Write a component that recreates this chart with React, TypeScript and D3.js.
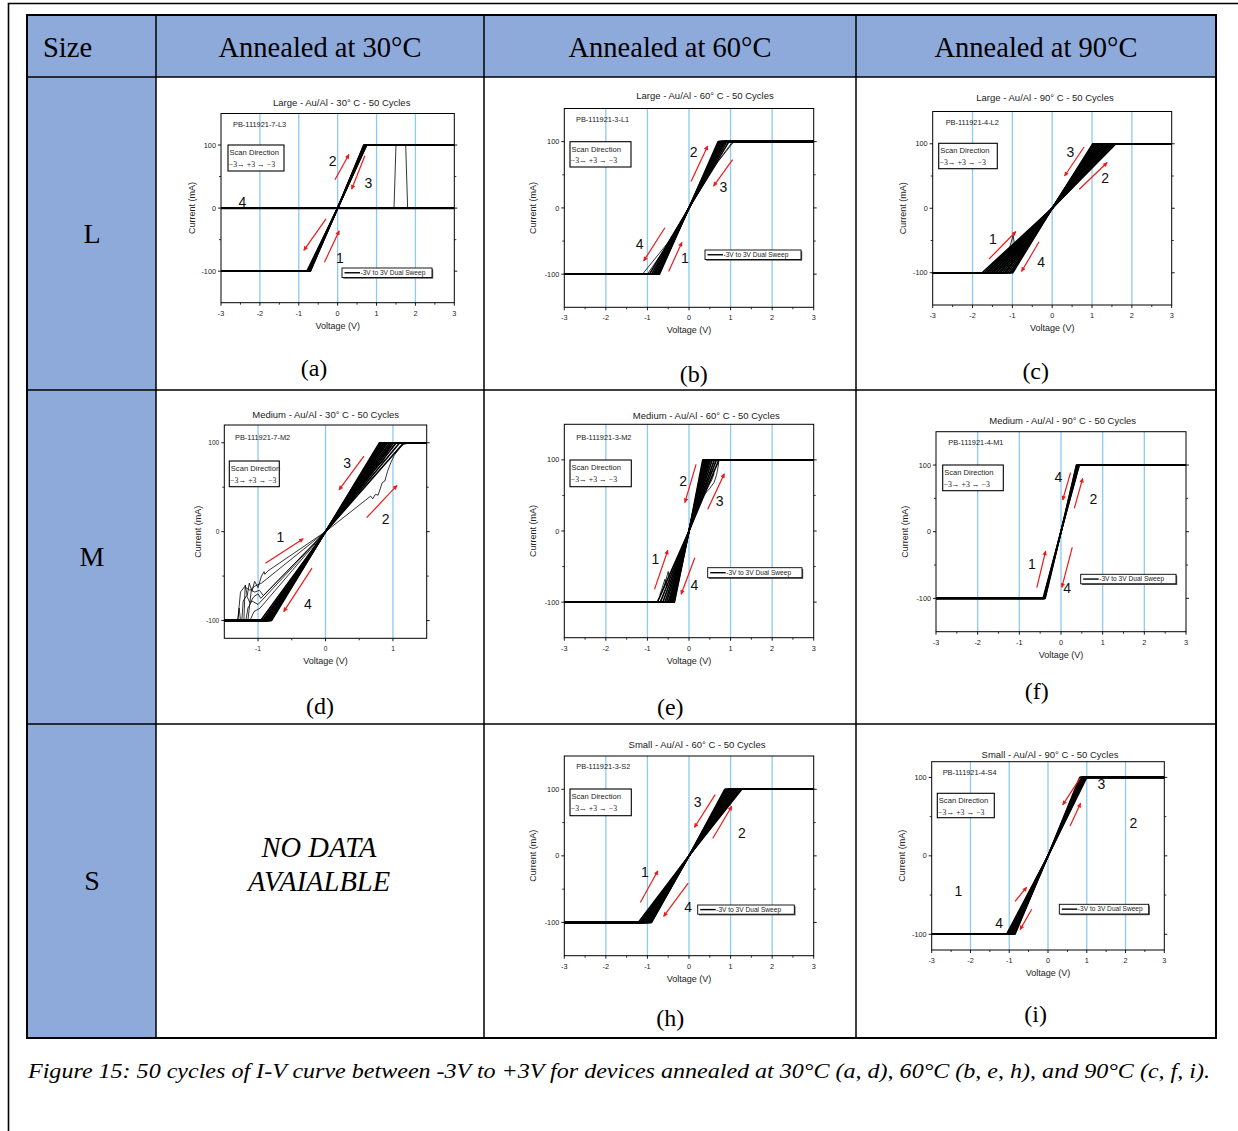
import React from "react";
import * as d3 from "d3";

type Pt = [number, number];
type Arrow = [number, number, number, number];
type Note = [number, number, string];

// ---------- text ----------
const sizeHead = "Size";
const columnHeads = ["Annealed at 30°C", "Annealed at 60°C", "Annealed at 90°C"];
const rowSizes = ["L", "M", "S"];
const noData = ["NO DATA", "AVAIALBLE"];
const caption =
  "Figure 15: 50 cycles of I-V curve between -3V to +3V for devices annealed at 30°C (a, d), 60°C (b, e, h), and 90°C (c, f, i).";
const legendText = "-3V to 3V Dual Sweep";

// ---------- axes ----------
const voltTicks = [-3, -2, -1, 0, 1, 2, 3];
const voltMinor = [-2.5, -1.5, -0.5, 0.5, 1.5, 2.5];
const voltTicksNarrow = [-1, 0, 1];
const voltMinorNarrow = [-0.5, 0.5];
const currentTicks = [-100, 0, 100];
const currentMinor = [-50, 50];
const gridWide = [-2, -1, 0, 1, 2];
const gridNarrow = [-1, 0, 1];
const compliance = 100; // mA, clamp level

// ---------- knee voltages per cycle (at -100 mA / +100 mA) ----------
const aLow = [-0.79, -0.77, -0.76, -0.75, -0.74, -0.73, -0.72, -0.71, -0.7];
const aHigh = [0.75, 0.74, 0.73, 0.72, 0.71, 0.7, 0.69, 0.68, 0.67];
const bLow = [-0.95, -0.9, -0.86, -0.83, -0.81, -0.79, -0.77, -0.76, -0.75, -0.73, -0.71];
const bHigh = [0.96, 0.91, 0.87, 0.84, 0.81, 0.79, 0.77, 0.76, 0.74, 0.72, 0.7];
const cLow = [-1.76, -1.71, -1.66, -1.62, -1.57, -1.52, -1.48, -1.43, -1.39, -1.34, -1.3, -1.25, -1.2, -1.16, -1.11, -1.06, -1.02, -0.99];
const cHigh = [1.6, 1.57, 1.53, 1.5, 1.46, 1.43, 1.39, 1.35, 1.31, 1.28, 1.24, 1.2, 1.17, 1.13, 1.1, 1.07, 1.04, 1.02];
const dLow = [-0.96, -0.93, -0.91, -0.89, -0.88, -0.87, -0.86, -0.85, -0.84, -0.83, -0.82, -0.81, -0.8];
const dHigh = [1.16, 1.1, 1.05, 1.01, 0.98, 0.95, 0.92, 0.9, 0.88, 0.86, 0.84, 0.82, 0.8];
const eLow = [-0.76, -0.69, -0.63, -0.58, -0.54, -0.5, -0.48, -0.46, -0.44, -0.42, -0.4, -0.38, -0.36, -0.35];
const eHigh = [0.72, 0.66, 0.61, 0.56, 0.52, 0.49, 0.47, 0.45, 0.43, 0.41, 0.39, 0.37, 0.35, 0.33];
const fLow = [-0.43, -0.42, -0.41, -0.4, -0.39, -0.38];
const fHigh = [0.37, 0.38, 0.4, 0.41, 0.43, 0.44];
const hLow = [-1.22, -1.18, -1.15, -1.12, -1.09, -1.06, -1.03, -1.0, -0.98, -0.95, -0.93, -0.91, -0.9];
const hHigh = [1.27, 1.23, 1.19, 1.15, 1.11, 1.08, 1.04, 1.01, 0.97, 0.94, 0.91, 0.88, 0.86];
const iLow = [-1.07, -1.04, -1.01, -0.98, -0.95, -0.93, -0.91, -0.89, -0.87, -0.85];
const iHigh = [1.0, 0.98, 0.96, 0.94, 0.92, 0.9, 0.88, 0.86, 0.84, 0.82];

// ---------- irregular traces ----------
const aExtra: Pt[][] = [
  [[-3, 0], [3, 0]],
];
const aSpikes: Pt[][] = [
  [[1.45, 0], [1.5, 100]],
  [[1.75, 100], [1.8, 0]],
];
const bExtra: Pt[][] = [
  [[-3, -100], [-1.12, -100], [-0.5, -52], [0, 0], [0.6, 62], [1.05, 100]],
  [[-3, -100], [-1.0, -100], [-0.4, -45], [0, 0], [0.7, 70], [1.08, 100]],
];
const cExtra: Pt[][] = [
  [[-1.12, -72], [-0.98, -42], [-0.93, -64]],
  [[-1.2, -80], [-1.02, -62], [-0.96, -70]],
];
const dExtra: Pt[][] = [
  [[-1.5, -100], [-1.3, -100], [-1.28, -86], [-1.26, -100], [-1.21, -100], [-1.19, -60], [-1.16, -72], [-1.13, -58], [-1.09, -67], [-1.05, -56], [-1.0, -63], [-0.95, -50], [-0.91, -45], [-0.9, -48], [-0.85, -44], [0, 0], [0.67, 40], [0.7, 37], [0.74, 42], [0.78, 41], [0.81, 48], [0.84, 55], [0.88, 57], [0.92, 68], [0.97, 78], [1.02, 86], [1.08, 92], [1.15, 98], [1.25, 100], [1.5, 100]],
  [[-1.5, -100], [-1.24, -100], [-1.22, -78], [-1.17, -72], [-1.12, -80], [-1.06, -73], [-1.0, -70], [-0.96, -75], [0, 0], [0.72, 70], [0.86, 80], [0.92, 90], [0.97, 100]],
  [[-1.5, -100], [-1.3, -100], [-1.26, -68], [-1.2, -62], [-1.12, -66], [-1.04, -61], [-0.95, -58], [0, 0], [0.86, 84], [0.96, 94], [1.06, 100]],
  [[-1.5, -100], [-1.18, -100], [-1.15, -86], [-1.09, -78], [-1.0, -82], [0, 0], [0.8, 80], [0.92, 92], [1.02, 100]],
  [[-1.5, -100], [-1.12, -100], [-1.06, -90], [-0.97, -86], [0, 0], [0.9, 94], [0.96, 100]],
  [[-1.5, -100], [-1.15, -100], [-1.1, -66], [-1.05, -68], [-0.98, -66], [-0.92, -72], [0, 0]],
];
const eExtra: Pt[][] = [
  [[0.38, 52], [0.5, 60], [0.6, 68], [0.66, 78], [0.7, 90], [0.72, 100]],
  [[0.42, 58], [0.55, 72], [0.6, 80], [0.57, 86], [0.5, 80]],
  [[-0.62, -82], [-0.5, -57], [-0.46, -72]],
  [[-0.7, -90], [-0.58, -68], [-0.52, -78]],
];
const fExtra: Pt[][] = [];
const hExtra: Pt[][] = [
  [[0.86, 72], [0.98, 80], [1.08, 90], [1.12, 96], [1.04, 88], [0.94, 78]],
  [[0.9, 76], [1.02, 86], [1.1, 94]],
];
const iExtra: Pt[][] = [];

// ---------- annotations (data coords) ----------
const aNotes: Note[] = [[-0.13, 75, "2"], [0.79, 40, "3"], [-2.45, 9.5, "4"], [0.06, -79, "1"]];
const aArrows: Arrow[] = [[-0.07, 45, 0.29, 85], [0.7, 83, 0.36, 30], [-0.3, -17, -0.87, -67], [-0.34, -86, 0.04, -36]];
const bNotes: Note[] = [[0.11, 85, "2"], [0.83, 31, "3"], [-1.19, -54, "4"], [-0.1, -75, "1"]];
const bArrows: Arrow[] = [[0.05, 40, 0.45, 93.5], [1.05, 73, 0.59, 33], [-0.58, -30, -1.09, -80], [-0.49, -96, -0.17, -52]];
const cNotes: Note[] = [[0.46, 87, "3"], [1.33, 47, "2"], [-1.49, -48, "1"], [-0.28, -83, "4"]];
const cArrows: Arrow[] = [[0.8, 95, 0.31, 50], [0.68, 29.5, 1.38, 71], [-1.59, -79, -0.91, -36], [-0.33, -52, -0.77, -98]];
const dNotes: Note[] = [[-0.67, -6, "1"], [0.32, 77.6, "3"], [0.89, 14, "2"], [-0.26, -81, "4"]];
const dArrows: Arrow[] = [[-0.89, -35.5, -0.33, -8], [0.57, 85, 0.2, 47], [0.61, 15.7, 1.06, 52], [-0.2, -41, -0.62, -90]];
const eNotes: Note[] = [[-0.14, 70.7, "2"], [0.74, 42, "3"], [-0.81, -40, "1"], [0.13, -76, "4"]];
const eArrows: Arrow[] = [[0.17, 93.7, -0.1, 40], [0.45, 30.5, 0.85, 80.5], [-0.83, -82, -0.51, -27], [0.14, -37.5, -0.19, -89]];
const fNotes: Note[] = [[-0.06, 82.5, "4"], [0.78, 49, "2"], [-0.7, -49, "1"], [0.15, -85, "4"]];
const fArrows: Arrow[] = [[0.23, 88.5, 0.04, 47.5], [0.32, 35, 0.52, 80], [-0.58, -84, -0.37, -29], [0.27, -23.5, 0.02, -83.5]];
const hNotes: Note[] = [[0.21, 81, "3"], [1.27, 33.6, "2"], [-1.06, -25, "1"], [-0.02, -76.5, "4"]];
const hArrows: Arrow[] = [[0.63, 92, 0.13, 42.6], [0.57, 26, 1.03, 74.5], [-1.17, -70, -0.75, -22.5], [-0.02, -41, -0.61, -91]];
const iNotes: Note[] = [[1.38, 92, "3"], [2.2, 42, "2"], [-2.31, -44.5, "1"], [-1.26, -85, "4"]];
const iArrows: Arrow[] = [[0.83, 99, 0.38, 65], [0.57, 38, 0.84, 67], [-0.85, -58, -0.55, -40], [-0.42, -68, -0.72, -94]];

const SERIF = "'Liberation Serif', 'Times New Roman', serif";
const SANS = "'Liberation Sans', Arial, sans-serif";
const HEAD_BLUE = "#8eaadb";
const GRID_BLUE = "#8ccbf0";
const RED = "#f01818";

interface PanelCfg {
  key: string;
  title: string;
  device: string;
  box: { left: number; right: number; top: number; bottom: number };
  xDom: [number, number];
  yDom: [number, number];
  xTicks: number[];
  xMinor: number[];
  grid: number[];
  low: number[];
  high: number[];
  extra: Pt[][];
  thin?: Pt[][];
  extraWidth?: number;
  notes: Note[];
  arrows: Arrow[];
  titlePos: [number, number];
  devicePos: [number, number];
  scan: [number, number, number, number];
  legend?: [number, number, number, number];
  letter: string;
  letterPos: [number, number];
  yLabelOff: number;
  tickFont: number;
}

const wide = { xDom: [-3, 3] as [number, number], xTicks: voltTicks, xMinor: voltMinor, grid: gridWide };

const panels: PanelCfg[] = [
  {
    key: "a", title: "Large - Au/Al - 30° C - 50 Cycles", device: "PB-111921-7-L3",
    box: { left: 221, right: 454.3, top: 113.5, bottom: 302.7 }, ...wide, yDom: [-150, 150],
    low: aLow, high: aHigh, extra: aExtra, extraWidth: 2.4, thin: aSpikes, notes: aNotes, arrows: aArrows,
    titlePos: [341.7, 102], devicePos: [233, 124], scan: [228, 145, 56, 26], legend: [342, 268, 90, 9.5],
    letter: "(a)", letterPos: [314, 376], yLabelOff: 29, tickFont: 7.3,
  },
  {
    key: "b", title: "Large - Au/Al - 60° C - 50 Cycles", device: "PB-111921-3-L1",
    box: { left: 564.3, right: 813.7, top: 108.5, bottom: 307.3 }, ...wide, yDom: [-150, 150],
    low: bLow, high: bHigh, extra: [], thin: bExtra, notes: bNotes, arrows: bArrows,
    titlePos: [705, 95], devicePos: [576, 119], scan: [570, 141.7, 61, 25.3], legend: [705, 250, 96, 9.5],
    letter: "(b)", letterPos: [693.7, 382], yLabelOff: 31, tickFont: 7.3,
  },
  {
    key: "c", title: "Large - Au/Al - 90° C - 50 Cycles", device: "PB-111921-4-L2",
    box: { left: 932.7, right: 1171.7, top: 111.5, bottom: 305 }, ...wide, yDom: [-150, 150],
    low: cLow, high: cHigh, extra: [], thin: cExtra, notes: cNotes, arrows: cArrows,
    titlePos: [1045, 97.3], devicePos: [945.7, 122.7], scan: [938.7, 143.3, 58.6, 25.4],
    letter: "(c)", letterPos: [1035.7, 379], yLabelOff: 30, tickFont: 7.3,
  },
  {
    key: "d", title: "Medium - Au/Al - 30° C - 50 Cycles", device: "PB-111921-7-M2",
    box: { left: 224.3, right: 426.7, top: 425, bottom: 638.3 },
    xDom: [-1.5, 1.5], yDom: [-120, 120], xTicks: voltTicksNarrow, xMinor: voltMinorNarrow, grid: gridNarrow,
    low: dLow, high: dHigh, extra: [], thin: dExtra, notes: dNotes, arrows: dArrows,
    titlePos: [325.7, 414.3], devicePos: [235, 437.7], scan: [229.3, 461, 50, 25.7],
    letter: "(d)", letterPos: [320, 714], yLabelOff: 26, tickFont: 6.6,
  },
  {
    key: "e", title: "Medium - Au/Al - 60° C - 50 Cycles", device: "PB-111921-3-M2",
    box: { left: 564.3, right: 813.7, top: 424.3, bottom: 637.7 }, ...wide, yDom: [-150, 150],
    low: eLow, high: eHigh, extra: [], thin: eExtra, notes: eNotes, arrows: eArrows,
    titlePos: [706.3, 415.7], devicePos: [576.3, 437.7], scan: [570, 460, 61.3, 26.7], legend: [707.7, 567.7, 94.3, 10],
    letter: "(e)", letterPos: [670.3, 715], yLabelOff: 31, tickFont: 7.3,
  },
  {
    key: "f", title: "Medium - Au/Al - 90° C - 50 Cycles", device: "PB-111921-4-M1",
    box: { left: 936, right: 1186, top: 431.7, bottom: 631.7 }, ...wide, yDom: [-150, 150],
    low: fLow, high: fHigh, extra: fExtra, notes: fNotes, arrows: fArrows,
    titlePos: [1062.7, 420.7], devicePos: [948.3, 442.7], scan: [942.7, 465, 60.6, 25.7], legend: [1080.7, 574.3, 95.3, 9.5],
    letter: "(f)", letterPos: [1036.7, 699], yLabelOff: 31, tickFont: 7.3,
  },
  {
    key: "h", title: "Small - Au/Al - 60° C - 50 Cycles", device: "PB-111921-3-S2",
    box: { left: 564.3, right: 813.7, top: 756, bottom: 955.7 }, ...wide, yDom: [-150, 150],
    low: hLow, high: hHigh, extra: [], thin: hExtra, notes: hNotes, arrows: hArrows,
    titlePos: [697, 744], devicePos: [576.3, 766], scan: [570, 789, 61.3, 26.7], legend: [697.7, 905, 96.6, 9.2],
    letter: "(h)", letterPos: [670.3, 1026], yLabelOff: 31, tickFont: 7.3,
  },
  {
    key: "i", title: "Small - Au/Al - 90° C - 50 Cycles", device: "PB-111921-4-S4",
    box: { left: 931.7, right: 1164.3, top: 761.7, bottom: 950 }, ...wide, yDom: [-120, 120],
    low: iLow, high: iHigh, extra: iExtra, notes: iNotes, arrows: iArrows,
    titlePos: [1050, 754], devicePos: [942.7, 772.7], scan: [937.3, 793.3, 57, 24.4], legend: [1059.3, 904.3, 89.4, 9.7],
    letter: "(i)", letterPos: [1035.7, 1022], yLabelOff: 30, tickFont: 7.3,
  },
];

function Panel({ cfg }: { cfg: PanelCfg }) {
  const { box } = cfg;
  const x = d3.scaleLinear().domain(cfg.xDom).range([box.left, box.right]);
  const y = d3.scaleLinear().domain(cfg.yDom).range([box.bottom, box.top]);
  const line = d3.line<Pt>().x((d) => x(d[0])).y((d) => y(d[1]));
  // each cycle: clamp, knee, origin, knee, clamp
  const sweeps: Pt[][] = cfg.low.map((lo, i) => [
    [cfg.xDom[0], -compliance],
    [lo, -compliance],
    [0, 0],
    [cfg.high[i], compliance],
    [cfg.xDom[1], compliance],
  ]);
  const clipId = `clip-${cfg.key}`;
  const midX = (box.left + box.right) / 2;
  const midY = (box.top + box.bottom) / 2;

  return (
    <g>
      <defs>
        <clipPath id={clipId}>
          <rect x={box.left} y={box.top} width={box.right - box.left} height={box.bottom - box.top} />
        </clipPath>
      </defs>
      <rect x={box.left} y={box.top} width={box.right - box.left} height={box.bottom - box.top} fill="#fff" />
      {cfg.grid.map((v) => (
        <line key={`g${v}`} x1={x(v)} x2={x(v)} y1={box.top} y2={box.bottom} stroke={GRID_BLUE} strokeWidth={1.3} />
      ))}

      <g clipPath={`url(#${clipId})`} fill="none" stroke="#000" strokeLinejoin="round">
        {cfg.extra.map((c, i) => (
          <path key={`x${i}`} d={line(c) ?? ""} strokeWidth={cfg.extraWidth ?? 1.1} />
        ))}
        {sweeps.map((c, i) => (
          <path key={`s${i}`} d={line(c) ?? ""} strokeWidth={1.6} />
        ))}
        {(cfg.thin ?? []).map((c, i) => (
          <path key={`t${i}`} d={line(c) ?? ""} strokeWidth={0.8} />
        ))}
      </g>

      {/* frame */}
      <rect x={box.left} y={box.top} width={box.right - box.left} height={box.bottom - box.top} fill="none" stroke="#000" strokeWidth={1} />

      {/* ticks */}
      {cfg.xTicks.map((v) => (
        <g key={`xt${v}`}>
          <line x1={x(v)} x2={x(v)} y1={box.bottom} y2={box.bottom + 3} stroke="#000" strokeWidth={0.9} />
          <text x={x(v)} y={box.bottom + 13} fontSize={cfg.tickFont} textAnchor="middle" fontFamily={SANS} fill="#222">
            {v}
          </text>
        </g>
      ))}
      {cfg.xMinor.map((v) => (
        <line key={`xm${v}`} x1={x(v)} x2={x(v)} y1={box.bottom} y2={box.bottom + 2} stroke="#000" strokeWidth={0.8} />
      ))}
      {currentTicks.map((v) => (
        <g key={`yt${v}`}>
          <line x1={box.left - 3} x2={box.left} y1={y(v)} y2={y(v)} stroke="#000" strokeWidth={0.9} />
          <line x1={box.right} x2={box.right + 3} y1={y(v)} y2={y(v)} stroke="#000" strokeWidth={0.9} />
          <text x={box.left - 5} y={y(v) + 2.6} fontSize={cfg.tickFont} textAnchor="end" fontFamily={SANS} fill="#222">
            {v}
          </text>
        </g>
      ))}
      {currentMinor.map((v) => (
        <g key={`ym${v}`}>
          <line x1={box.left - 2} x2={box.left} y1={y(v)} y2={y(v)} stroke="#000" strokeWidth={0.8} />
          <line x1={box.right} x2={box.right + 2} y1={y(v)} y2={y(v)} stroke="#000" strokeWidth={0.8} />
        </g>
      ))}

      {/* axis labels */}
      <text x={midX} y={box.bottom + 26} fontSize={9} textAnchor="middle" fontFamily={SANS} fill="#222">
        Voltage (V)
      </text>
      <text
        transform={`translate(${box.left - cfg.yLabelOff},${midY}) rotate(-90)`}
        fontSize={9}
        textAnchor="middle"
        dy={3}
        fontFamily={SANS}
        fill="#222"
      >
        Current (mA)
      </text>
      <text x={cfg.titlePos[0]} y={cfg.titlePos[1] + 3.5} fontSize={9.5} textAnchor="middle" fontFamily={SANS} fill="#222">
        {cfg.title}
      </text>
      <text x={cfg.devicePos[0]} y={cfg.devicePos[1] + 2.7} fontSize={7.4} fontFamily={SANS} fill="#222">
        {cfg.device}
      </text>

      {/* scan direction box */}
      <rect x={cfg.scan[0]} y={cfg.scan[1]} width={cfg.scan[2]} height={cfg.scan[3]} fill="#fff" stroke="#000" strokeWidth={1.1} />
      <text x={cfg.scan[0] + 1.5} y={cfg.scan[1] + 10} fontSize={7.6} fontFamily={SANS} fill="#222">
        Scan Direction
      </text>
      <text x={cfg.scan[0] + 0.8} y={cfg.scan[1] + 21.5} fontSize={7.8} fontFamily={SERIF} fill="#222">
        −3→ +3 → −3
      </text>

      {/* dual sweep legend */}
      {cfg.legend && (
        <g>
          <rect x={cfg.legend[0] + 1.2} y={cfg.legend[1] + 1.2} width={cfg.legend[2]} height={cfg.legend[3]} fill="#555" />
          <rect x={cfg.legend[0]} y={cfg.legend[1]} width={cfg.legend[2]} height={cfg.legend[3]} fill="#fff" stroke="#000" strokeWidth={0.9} />
          <line
            x1={cfg.legend[0] + 2.5}
            x2={cfg.legend[0] + 18}
            y1={cfg.legend[1] + cfg.legend[3] / 2}
            y2={cfg.legend[1] + cfg.legend[3] / 2}
            stroke="#000"
            strokeWidth={1.4}
          />
          <text x={cfg.legend[0] + 18.5} y={cfg.legend[1] + cfg.legend[3] / 2 + 2.3} fontSize={6.6} fontFamily={SANS} fill="#222">
            {legendText}
          </text>
        </g>
      )}

      {/* red sweep arrows */}
      {cfg.arrows.map((a, i) => (
        <line
          key={`a${i}`}
          x1={x(a[0])}
          y1={y(a[1])}
          x2={x(a[2])}
          y2={y(a[3])}
          stroke={RED}
          strokeWidth={1.2}
          markerEnd="url(#redHead)"
        />
      ))}
      {cfg.notes.map((n, i) => (
        <text key={`n${i}`} x={x(n[0])} y={y(n[1]) + 5} fontSize={14} textAnchor="middle" fontFamily={SANS} fill="#111">
          {n[2]}
        </text>
      ))}

      <text x={cfg.letterPos[0]} y={cfg.letterPos[1]} fontSize={24} textAnchor="middle" fontFamily={SERIF} fill="#000">
        {cfg.letter}
      </text>
    </g>
  );
}

export default function App() {
  const W = 1238;
  const H = 1131;
  const tbl = { left: 27, right: 1216, top: 15, bottom: 1038 };
  const colX = [27, 156, 484, 856, 1216];
  const rowY = [15, 77, 390, 724, 1038];
  const colMid = colX.slice(1, 4).map((c, i) => (c + colX[i + 2]) / 2);

  return (
    <div style={{ position: "absolute", left: 0, top: 0 }}>
      <svg width={W} height={H} style={{ display: "block", background: "#fff" }}>
        <defs>
          <marker id="redHead" viewBox="0 0 10 10" refX="9" refY="5" markerWidth="6" markerHeight="4.5" markerUnits="userSpaceOnUse" orient="auto">
            <path d="M0,0 L10,5 L0,10 z" fill={RED} />
          </marker>
        </defs>

        {/* page frame */}
        <path d={`M8.5,${H} V3.5 H${W}`} fill="none" stroke="#000" strokeWidth={1.6} />

        {/* table fills */}
        <rect x={tbl.left} y={rowY[0]} width={tbl.right - tbl.left} height={rowY[1] - rowY[0]} fill={HEAD_BLUE} />
        <rect x={colX[0]} y={rowY[1]} width={colX[1] - colX[0]} height={rowY[4] - rowY[1]} fill={HEAD_BLUE} />

        {/* header text */}
        <text x={43} y={57} fontSize={28.5} fontFamily={SERIF} fill="#000">
          {sizeHead}
        </text>
        {columnHeads.map((h, i) => (
          <text key={h} x={colMid[i]} y={57} fontSize={28.5} textAnchor="middle" fontFamily={SERIF} fill="#000">
            {h}
          </text>
        ))}
        {rowSizes.map((s, i) => (
          <text key={s} x={92} y={(rowY[i + 1] + rowY[i + 2]) / 2 + 9} fontSize={28} textAnchor="middle" fontFamily={SERIF} fill="#000">
            {s}
          </text>
        ))}

        {panels.map((p) => (
          <Panel key={p.key} cfg={p} />
        ))}

        <text x={319} y={857} fontSize={28.5} textAnchor="middle" fontStyle="italic" fontFamily={SERIF} fill="#000">
          {noData[0]}
        </text>
        <text x={319} y={891} fontSize={28.5} textAnchor="middle" fontStyle="italic" fontFamily={SERIF} fill="#000">
          {noData[1]}
        </text>

        {/* table grid */}
        {colX.slice(1, 4).map((c) => (
          <line key={`c${c}`} x1={c} x2={c} y1={tbl.top} y2={tbl.bottom} stroke="#000" strokeWidth={1.5} />
        ))}
        {rowY.slice(1, 4).map((r) => (
          <line key={`r${r}`} x1={tbl.left} x2={tbl.right} y1={r} y2={r} stroke="#000" strokeWidth={1.5} />
        ))}
        <rect x={tbl.left} y={tbl.top} width={tbl.right - tbl.left} height={tbl.bottom - tbl.top} fill="none" stroke="#000" strokeWidth={2} />

        <text x={28} y={1078} fontSize={21} fontStyle="italic" fontFamily={SERIF} fill="#000" textLength={1182} lengthAdjust="spacingAndGlyphs">
          {caption}
        </text>
      </svg>
    </div>
  );
}
